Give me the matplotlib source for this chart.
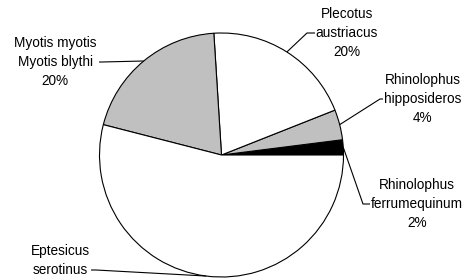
import numpy as np
import matplotlib
matplotlib.use("Agg")
import matplotlib.pyplot as plt

plt.rcParams['font.family'] = ['Liberation Sans', 'DejaVu Sans']

# Data (counter-clockwise from 3 o'clock)
labels = [["Rhinolophus", "ferrumequinum", "2%"],
          ["Rhinolophus", "hipposideros", "4%"],
          ["Plecotus", "austriacus", "20%"],
          ["Myotis myotis", "Myotis blythi", "20%"],
          ["Eptesicus", "serotinus"]]
values = [2, 4, 20, 20, 54]
colors = ["#000000", "#C0C0C0", "#FFFFFF", "#C0C0C0", "#FFFFFF"]

# Layout (pixels, y measured from top)
W, H = 465, 280
cx, cy, R = 221.5, 155, 122
text_pos = [(417, 204), (423, 99), (347, 33), (55, 62), (60, 270)]   # centre of middle line
elbows = [(363, 204), (380, 99), (307, 33), (102, 62), (96, 270)]
stubs = [7, 3, 8, -3, -5]
line_gap = 19.3

fig = plt.figure(figsize=(W / 100, H / 100), dpi=100)
ax = fig.add_axes([0, 0, 1, 1])

wedges, _ = ax.pie(values, colors=colors, startangle=0, counterclock=True,
                   center=(cx, H - cy), radius=R,
                   wedgeprops=dict(edgecolor='black', linewidth=0.8))
ax.set_xlim(0, W)
ax.set_ylim(0, H)
ax.set_aspect('equal')
ax.axis('off')

total = sum(values)
start = 0.0
for i, v in enumerate(values):
    mid = np.deg2rad((start + v / 2) / total * 360)
    start += v
    ax_x = cx + R * np.cos(mid)
    ax_y = (H - cy) + R * np.sin(mid)
    ex, ey = elbows[i]
    tx, ty = text_pos[i]
    end_x = ex + stubs[i]
    ax.plot([ax_x, ex, end_x], [ax_y, H - ey, H - ey], color='black', lw=0.8,
            solid_capstyle='butt')
    for j, line in enumerate(labels[i]):
        yy = ty + (j - 1) * line_gap
        ax.text(tx, H - yy, line, ha='center', va='center', fontsize=9.8, color='black')

fig.savefig("out.png", dpi=100)
